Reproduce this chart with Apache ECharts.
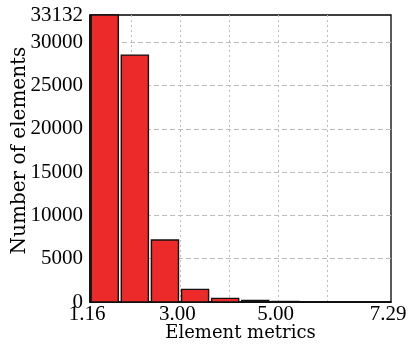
<!DOCTYPE html>
<html>
<head>
<meta charset="utf-8">
<script src="https://cdn.jsdelivr.net/npm/echarts@6/dist/echarts.min.js"></script>
<style>html,body{margin:0;padding:0;background:#fff;}#c{width:410px;height:347px;}</style>
</head>
<body>
<div id="c"></div>
<script>
// Histogram bin edges (Element metrics) and counts
const binEdges = [1.16, 1.773, 2.386, 2.999, 3.612, 4.225, 4.838, 5.451, 6.064, 6.677, 7.29];
const counts = [33132, 28500, 7150, 1460, 420, 170, 60, 30, 15, 8];
const xTickLabels = [1.16, 3.00, 5.00, 7.29];
const xGridValues = [2, 3, 4, 5, 6];
const yTickLabels = [0, 5000, 10000, 15000, 20000, 25000, 30000, 33132];
const yGridValues = [5000, 10000, 15000, 20000, 25000, 30000];

const barData = counts.map((c, i) => [binEdges[i], binEdges[i + 1], c]);

const chart = echarts.init(document.getElementById('c'), null, {renderer: 'canvas'});
const tickFont = 'Liberation Serif';
const titleFont = 'DejaVu Serif';
chart.setOption({
  animation: false,
  backgroundColor: '#fff',
  grid: {left: 90, right: 19, top: 15, bottom: 45, containLabel: false, outerBoundsMode: 'none',
         show: true, borderColor: '#000', borderWidth: 1.3, backgroundColor: 'transparent'},
  xAxis: {
    type: 'value', min: 1.16, max: 7.29,
    name: 'Element metrics', nameLocation: 'middle', nameGap: 22, nameMoveOverlap: false,
    nameTextStyle: {fontFamily: titleFont, fontSize: 18, color: '#000'},
    axisLine: {show: true, lineStyle: {color: '#000', width: 1.5}},
    axisTick: {show: false, customValues: xGridValues},
    splitLine: {show: true, lineStyle: {color: '#bdbdbd', type: [2, 3], width: 1}},
    axisLabel: {customValues: xTickLabels, formatter: v => v.toFixed(2), fontFamily: tickFont, fontSize: 21, color: '#000', margin: 2, padding: [0, 6, 0, 0], hideOverlap: false}
  },
  yAxis: {
    type: 'value', min: 0, max: 33132,
    name: 'Number of elements', nameLocation: 'middle', nameGap: 60, nameRotate: 90, nameMoveOverlap: false,
    nameTextStyle: {fontFamily: titleFont, fontSize: 20, color: '#000', padding: [0, 0, 0, 16]},
    axisLine: {show: true, lineStyle: {color: '#000', width: 1.5}},
    axisTick: {show: false, customValues: yGridValues},
    splitLine: {show: true, lineStyle: {color: '#bdbdbd', type: [5, 3], width: 1}},
    axisLabel: {customValues: yTickLabels, formatter: v => String(v), fontFamily: tickFont, fontSize: 21, color: '#000', margin: 7, hideOverlap: false}
  },
  series: [{
    type: 'custom',
    data: barData,
    encode: {x: [0, 1], y: 2},
    renderItem: function (params, api) {
      const p0 = api.coord([api.value(0), 0]);
      const p1 = api.coord([api.value(1), api.value(2)]);
      const w = p1[0] - p0[0];
      return {
        type: 'rect',
        shape: {x: p0[0] + w * 0.04, y: p1[1], width: w * 0.9, height: p0[1] - p1[1]},
        style: {fill: '#ed2a2a', stroke: '#111', lineWidth: 1.4}
      };
    }
  }]
});
</script>
</body>
</html>
